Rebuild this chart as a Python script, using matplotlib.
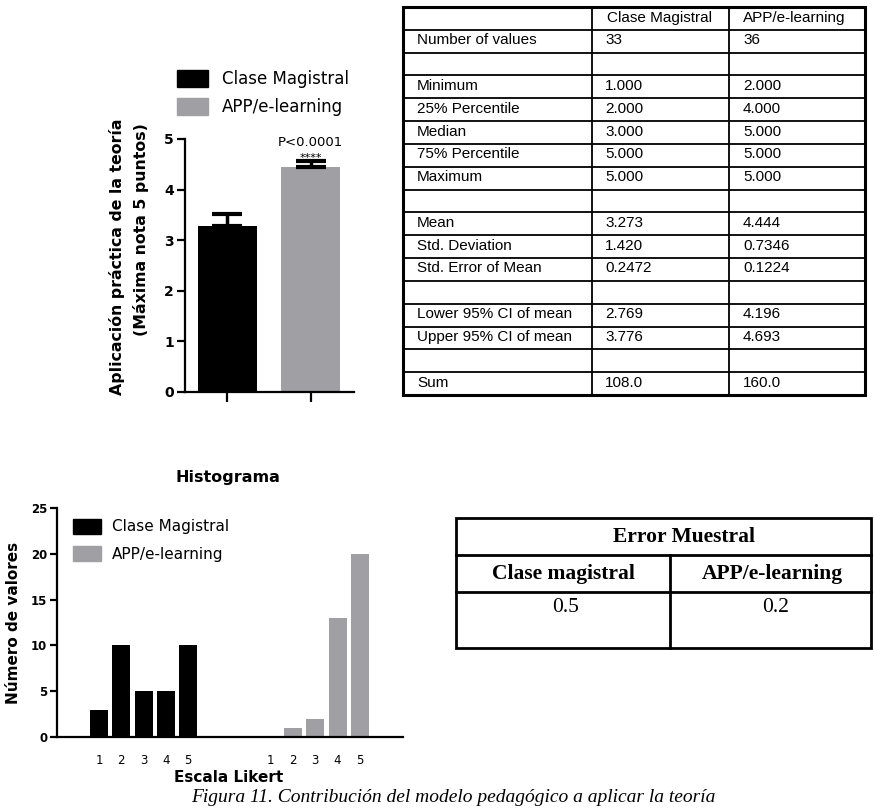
import matplotlib
matplotlib.use('Agg')
import matplotlib.pyplot as plt
from matplotlib.patches import Rectangle

# ---------------- data ----------------
groups = ['Clase Magistral', 'APP/e-learning']
means = [3.273, 4.444]
sems = [0.2472, 0.1224]
p_text = 'P<0.0001'
stars = '****'

likert = [1, 2, 3, 4, 5]
counts_clase = [3, 10, 5, 5, 10]
counts_app = [0, 1, 2, 13, 20]

stat_rows = ['Number of values', '', 'Minimum', '25% Percentile', 'Median',
             '75% Percentile', 'Maximum', '', 'Mean', 'Std. Deviation',
             'Std. Error of Mean', '', 'Lower 95% CI of mean',
             'Upper 95% CI of mean', '', 'Sum']
stat_clase = ['33', '', '1.000', '2.000', '3.000', '5.000', '5.000', '',
              '3.273', '1.420', '0.2472', '', '2.769', '3.776', '', '108.0']
stat_app = ['36', '', '2.000', '4.000', '5.000', '5.000', '5.000', '',
            '4.444', '0.7346', '0.1224', '', '4.196', '4.693', '', '160.0']

err_title = 'Error Muestral'
err_headers = ['Clase magistral', 'APP/e-learning']
err_values = ['0.5', '0.2']

caption = 'Figura 11. Contribución del modelo pedagógico a aplicar la teoría'

BLACK = '#000000'
GRAY = '#a0a0a4'
colors = [BLACK, GRAY]

# ---------------- figure ----------------
W, H = 874, 809
fig = plt.figure(figsize=(W / 100, H / 100), dpi=100)


def fbox(x0, y0, x1, y1):
    return [x0 / W, 1 - y1 / H, (x1 - x0) / W, (y1 - y0) / H]


# overlay axes in pixel coordinates for tables / free text
ov = fig.add_axes([0, 0, 1, 1], zorder=5)
ov.set_xlim(0, W)
ov.set_ylim(H, 0)
ov.axis('off')
ov.patch.set_alpha(0)

SANS = 'DejaVu Sans'
ARIAL = 'Liberation Sans'
SERIF = 'Liberation Serif'

# ---------------- top bar chart ----------------
ax1 = fig.add_axes(fbox(185, 139, 354, 392))
xpos = list(range(len(groups)))
ax1.bar(xpos, means, width=0.71, color=colors, zorder=2)
ax1.errorbar(xpos, means, yerr=[[0] * len(sems), sems], fmt='none',
             ecolor=BLACK, elinewidth=2.5, capsize=11, capthick=3, zorder=3)
ax1.set_xlim(-0.512, 1.524)
ax1.set_ylim(0, 5)
for s in ['top', 'right']:
    ax1.spines[s].set_visible(False)
for s in ['left', 'bottom']:
    ax1.spines[s].set_linewidth(1.6)
ax1.set_yticks([0, 1, 2, 3, 4, 5])
ax1.set_yticklabels([str(v) for v in [0, 1, 2, 3, 4, 5]],
                    fontweight='bold', fontsize=10, family=SANS)
ax1.set_xticks(xpos)
ax1.set_xticklabels(['', ''])
ax1.tick_params(axis='y', length=6, width=1.6, pad=2)
ax1.tick_params(axis='x', length=7, width=1.6)
ax1.text(1, 4.94, p_text, ha='center', va='center', fontsize=9.5,
         family=SANS, clip_on=False)
ax1.text(1, 4.63, stars, ha='center', va='center', fontsize=8,
         family=SANS, clip_on=False)

# legend (top)
for i, (g, c) in enumerate(zip(groups, colors)):
    y0 = 70 + i * 28
    ov.add_patch(Rectangle((177, y0), 31, 17, color=c))
    ov.text(222, y0 + 9, g, ha='left', va='center', fontsize=12, family=SANS)

# y labels top chart
ov.text(117, 118, 'Aplicación práctica de la teoría', rotation=90,
        ha='center', va='top', fontsize=11.3, fontweight='bold', family=SANS)
ov.text(141, 123, '(Máxima nota 5 puntos)', rotation=90,
        ha='center', va='top', fontsize=11.3, fontweight='bold', family=SANS)

# ---------------- stats table (top right) ----------------
tx0, tx1 = 403, 865
tc1, tc2 = 592, 729
ty0, ty1 = 7, 395
nrows = len(stat_rows) + 1
rh = (ty1 - ty0) / nrows
for r in range(1, nrows):
    y = ty0 + r * rh
    ov.plot([tx0, tx1], [y, y], color='black', lw=1.3)
for xc in [tc1, tc2]:
    ov.plot([xc, xc], [ty0, ty1], color='black', lw=1.3)
ov.add_patch(Rectangle((tx0, ty0), tx1 - tx0, ty1 - ty0, fill=False,
                       edgecolor='black', lw=2.2))
ov.text(tc1 + 15, ty0 + rh / 2, groups[0], ha='left', va='center',
        fontsize=11, family=ARIAL)
ov.text(tc2 + 14, ty0 + rh / 2, groups[1], ha='left', va='center',
        fontsize=11, family=ARIAL)
for i, (lab, a, b) in enumerate(zip(stat_rows, stat_clase, stat_app)):
    yc = ty0 + (i + 1) * rh + rh / 2 - 1
    ov.text(tx0 + 14, yc, lab, ha='left', va='center', fontsize=11, family=ARIAL)
    ov.text(tc1 + 13, yc, a, ha='left', va='center', fontsize=11, family=ARIAL)
    ov.text(tc2 + 14, yc, b, ha='left', va='center', fontsize=11, family=ARIAL)

# ---------------- histogram ----------------
gap = 7.72
ax2 = fig.add_axes(fbox(57, 508, 403, 737))
x_app = [l + gap for l in likert]
ax2.bar(likert, counts_clase, width=0.81, color=BLACK, zorder=2)
ax2.bar(x_app, counts_app, width=0.81, color=GRAY, zorder=2)
ax2.set_xlim(-0.888, 14.66)
ax2.set_ylim(0, 25)
for s in ['top', 'right']:
    ax2.spines[s].set_visible(False)
for s in ['left', 'bottom']:
    ax2.spines[s].set_linewidth(1.6)
ax2.set_yticks([0, 5, 10, 15, 20, 25])
ax2.set_yticklabels([str(v) for v in [0, 5, 10, 15, 20, 25]],
                    fontweight='bold', fontsize=8.5, family=SANS)
ax2.set_xticks(likert + x_app)
ax2.set_xticklabels([str(l) for l in likert] * 2, fontsize=8.5, family=SANS)
ax2.tick_params(axis='y', length=5, width=1.6, pad=2)
ax2.tick_params(axis='x', length=0, pad=12)

for i, (g, c) in enumerate(zip(groups, colors)):
    y0 = 519 + i * 27
    ov.add_patch(Rectangle((73, y0), 28, 15, color=c))
    ov.text(112, y0 + 8, g, ha='left', va='center', fontsize=11, family=SANS)

ov.text(228, 477, 'Histograma', ha='center', va='center', fontsize=11.5,
        fontweight='bold', family=SANS)
ov.text(229, 778, 'Escala Likert', ha='center', va='center', fontsize=11,
        fontweight='bold', family=SANS)
ov.text(14, 623, 'Número de valores', rotation=90, ha='center', va='center',
        fontsize=11, fontweight='bold', family=SANS)

# ---------------- error table ----------------
ex0, ex1 = 456, 871
ecol = 670
ey = [518, 555, 592, 648]
ov.add_patch(Rectangle((ex0, ey[0]), ex1 - ex0, ey[3] - ey[0], fill=False,
                       edgecolor='black', lw=2))
for y in ey[1:3]:
    ov.plot([ex0, ex1], [y, y], color='black', lw=2)
ov.plot([ecol, ecol], [ey[1], ey[3]], color='black', lw=2)
ov.text(684, (ey[0] + ey[1]) / 2, err_title, ha='center',
        va='center', fontsize=15.5, fontweight='bold', family=SERIF)
centers = [(ex0 + ecol) / 2, (ecol + ex1) / 2 + 2]
for cx, h, v in zip(centers, err_headers, err_values):
    ov.text(cx, (ey[1] + ey[2]) / 2, h, ha='center', va='center',
            fontsize=15.5, fontweight='bold', family=SERIF)
    ov.text(cx + 3, ey[2] + 16, v, ha='center', va='center', fontsize=15.5,
            family=SERIF)

# ---------------- caption ----------------
ov.text(453, 797, caption, ha='center', va='center', fontsize=14,
        style='italic', family=SERIF)

fig.savefig('out.png', dpi=100)
